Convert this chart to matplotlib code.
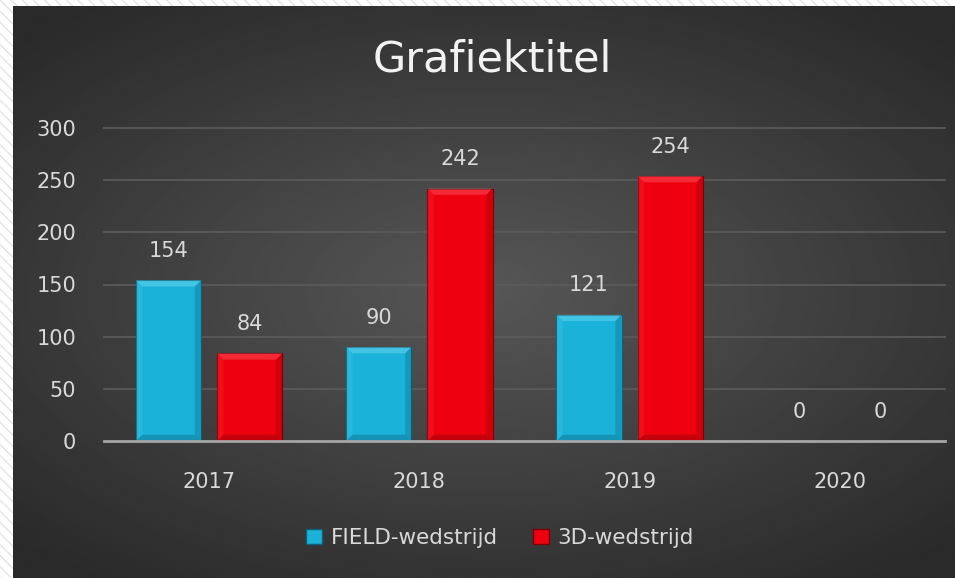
import numpy as np
import matplotlib
matplotlib.use('Agg')
import matplotlib.pyplot as plt
from matplotlib.patches import Rectangle, Polygon, Patch

# data
years = ['2017', '2018', '2019', '2020']
field = [154, 90, 121, 0]
wedstrijd3d = [84, 242, 254, 0]
series_names = ['FIELD-wedstrijd', '3D-wedstrijd']

txt_col = '#d9d9d9'
cyan = '#1ab2d8'
red = '#ee000e'

fig = plt.figure(figsize=(9.55, 5.78), dpi=100)
fig.patch.set_facecolor('white')

# hatched border behind the dark panel
fig.patches.append(Rectangle((0, 0), 1, 1, transform=fig.transFigure,
                             facecolor='white', edgecolor='#e4e4e4',
                             hatch='\\\\\\', linewidth=0, zorder=-3))

# dark panel with radial gradient
bg = fig.add_axes([13 / 955, 0, 1 - 13 / 955, 1 - 6 / 578], zorder=-2)
yy, xx = np.mgrid[0:1:300j, 0:1:500j]
r = np.sqrt(((xx - 0.5) / 1.0) ** 2 + ((yy - 0.5) / 0.9) ** 2)
shade = np.clip(0.34 - 0.25 * r, 0.165, 0.34)
bg.imshow(shade, cmap='gray', vmin=0, vmax=1, aspect='auto',
          extent=[0, 1, 0, 1], interpolation='bilinear')
bg.set_axis_off()

ax = fig.add_axes([104 / 955, 1 - 441 / 578, (945 - 104) / 955, (441 - 128) / 578])
ax.patch.set_alpha(0)

x = np.arange(len(years))
w = 0.31
gap = 0.076


def bevel(ax, rect, light, dark):
    x0, y0 = rect.get_x(), rect.get_y()
    bw, bh = rect.get_width(), rect.get_height()
    if bh <= 0:
        return
    dx = 0.03
    dy = min(6, bh / 3)
    x1 = x0 + bw
    y1 = y0 + bh
    top = [(x0, y1), (x1, y1), (x1 - dx, y1 - dy), (x0 + dx, y1 - dy)]
    left = [(x0, y0), (x0, y1), (x0 + dx, y1 - dy), (x0 + dx, y0 + dy)]
    right = [(x1, y0), (x1, y1), (x1 - dx, y1 - dy), (x1 - dx, y0 + dy)]
    bottom = [(x0, y0), (x1, y0), (x1 - dx, y0 + dy), (x0 + dx, y0 + dy)]
    ax.add_patch(Polygon(top, closed=True, facecolor=light, edgecolor='none', alpha=0.35, zorder=3))
    ax.add_patch(Polygon(left, closed=True, facecolor=light, edgecolor='none', alpha=0.12, zorder=3))
    ax.add_patch(Polygon(right, closed=True, facecolor=dark, edgecolor='none', alpha=0.2, zorder=3))
    ax.add_patch(Polygon(bottom, closed=True, facecolor=dark, edgecolor='none', alpha=0.25, zorder=3))


b1 = ax.bar(x - w / 2 - gap / 2, field, w, color=cyan, edgecolor='#0d6078', linewidth=0.8, zorder=2)
b2 = ax.bar(x + w / 2 + gap / 2, wedstrijd3d, w, color=red, edgecolor='#7a0006', linewidth=0.8, zorder=2)

for bars, vals, lc, dc in [(b1, field, '#8fe6ff', '#05384a'), (b2, wedstrijd3d, '#ff7a80', '#4a0003')]:
    for rect, v in zip(bars, vals):
        bevel(ax, rect, lc, dc)
        ax.annotate(str(v), (rect.get_x() + rect.get_width() / 2, v),
                    xytext=(0, 14), textcoords='offset points',
                    ha='center', va='bottom', color=txt_col, fontsize=15)

ax.set_xlim(-0.5, 3.5)
ax.set_ylim(0, 300)
ax.set_yticks(range(0, 301, 50))
ax.set_xticks(x)
ax.set_xticklabels(years)
for s in ax.spines.values():
    s.set_visible(False)
ax.axhline(0, color='#a6a6a6', lw=2, zorder=4, clip_on=False)
for yv in range(50, 301, 50):
    ax.axhline(yv, color='#5a5a5a', lw=1.3, zorder=1, clip_on=False)
ax.tick_params(axis='both', length=0, colors=txt_col, labelsize=15)
ax.tick_params(axis='y', pad=20)
ax.tick_params(axis='x', pad=22)

fig.text(492 / 955, 1 - 60 / 578, 'Grafiektitel', ha='center', va='center',
         color='#f2f2f2', fontsize=31)

handles = [Patch(facecolor=cyan, edgecolor='#0d6078'),
           Patch(facecolor=red, edgecolor='#7a0006')]
fig.legend(handles, series_names, loc='center', bbox_to_anchor=(500 / 955, 1 - 538 / 578),
           ncol=2, frameon=False, fontsize=15.5, labelcolor=txt_col,
           handlelength=0.75, handleheight=0.75, handletextpad=0.4, columnspacing=1.6)

fig.savefig('out.png', dpi=100, facecolor=fig.get_facecolor())
